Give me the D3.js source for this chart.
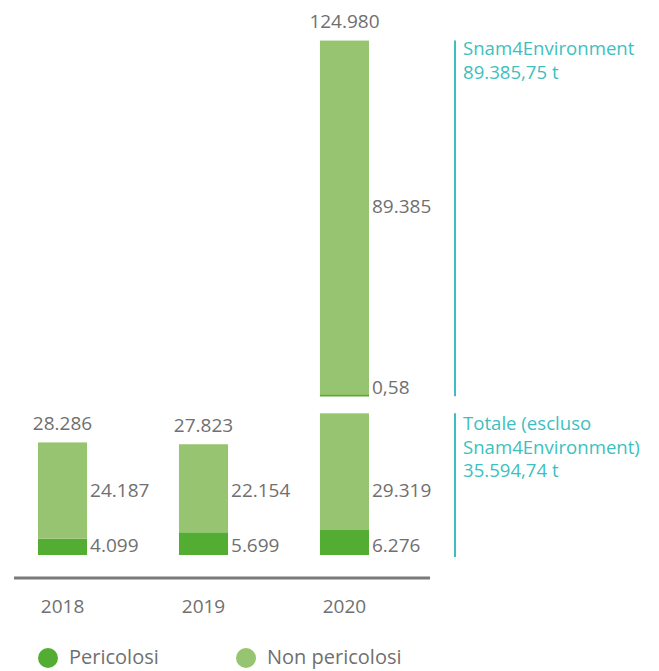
<!DOCTYPE html>
<html>
<head>
<meta charset="utf-8">
<script src="https://cdn.jsdelivr.net/npm/d3@7"></script>
<style>
    body { margin: 0; background: #fff; }
    svg text { font-family: "Open Sans", "Noto Sans", sans-serif; }
</style>
</head>
<body>
<svg id="chart"></svg>
<script>
// data (tonnellate)
const years = ["2018", "2019", "2020"];
const pericolosi = [4099, 5699, 6276];
const nonPericolosi = [24187, 22154, 29319];
// totals as published (2020 includes Snam4Environment)
const totali = [28286, 27823, 124980];
// Snam4Environment only in 2020, stacked above a break
const s4eYear = "2020";
const s4ePericolosi = 0.58;
const s4eNonPericolosi = 89385;
const noteS4E = ["Snam4Environment", "89.385,75 t"];
const noteTotale = ["Totale (escluso", "Snam4Environment)", "35.594,74 t"];
const legendLabels = ["Pericolosi", "Non pericolosi"];

class WasteChart {

    constructor(_config) {
        this.config = {
            parentElement: _config.parentElement,
            containerWidth: 659,
            containerHeight: 671,
            baseY: 555,
            breakGap: 17
        };
        this.colors = {dark: '#52ad32', light: '#97c470', text: '#707070', cyan: '#3dbfbf', axis: '#7a7a7a'};
        this.it = d3.formatLocale({decimal: ",", thousands: ".", grouping: [3], currency: ["", "€"]});
        this.initVis();
    }

    initVis() {
        let vis = this;

        vis.svg = d3.select(vis.config.parentElement)
            .attr('width', vis.config.containerWidth)
            .attr('height', vis.config.containerHeight);

        vis.xScale = d3.scaleBand()
            .domain(years)
            .range([38, 369])
            .paddingInner(0.652)
            .paddingOuter(0);

        vis.yScale = d3.scaleLinear()
            .domain([0, 125000])
            .range([vis.config.baseY, vis.config.baseY - 497.5]);

        vis.data = years.map((y, i) => ({
            year: y,
            per: pericolosi[i],
            non: nonPericolosi[i],
            tot: y === s4eYear ? pericolosi[i] + nonPericolosi[i] : totali[i],
            label: totali[i]
        }));

        vis.renderVis();
    }

    renderVis() {
        let vis = this;
        const c = vis.colors;
        const x = vis.xScale, y = vis.yScale;
        const bw = x.bandwidth();
        const fmt0 = vis.it.format(",.0f");
        const fmt2 = vis.it.format(",.2f");
        const gap = vis.config.breakGap;

        const bars = vis.svg.append('g');

        // lower stacks
        bars.selectAll('.bar-per')
            .data(vis.data)
            .join('rect')
            .attr('class', 'bar-per')
            .attr('x', d => x(d.year))
            .attr('width', bw)
            .attr('y', d => y(d.per))
            .attr('height', d => y(0) - y(d.per))
            .attr('fill', c.dark);

        bars.selectAll('.bar-non')
            .data(vis.data)
            .join('rect')
            .attr('class', 'bar-non')
            .attr('x', d => x(d.year))
            .attr('width', bw)
            .attr('y', d => y(d.tot))
            .attr('height', d => y(d.per) - y(d.tot))
            .attr('fill', c.light);

        // Snam4Environment block above the break
        const s4e = vis.data.find(d => d.year === s4eYear);
        const b0 = s4e.tot;
        const b1 = b0 + s4ePericolosi;
        const b2 = b1 + s4eNonPericolosi;
        bars.append('rect')
            .attr('x', x(s4eYear)).attr('width', bw)
            .attr('y', y(b2) - gap).attr('height', y(b1) - y(b2))
            .attr('fill', c.light);
        bars.append('rect')
            .attr('x', x(s4eYear)).attr('width', bw)
            .attr('y', y(b1) - gap - 1.5).attr('height', Math.max(1.5, y(b0) - y(b1)))
            .attr('fill', c.dark);

        const labels = vis.svg.append('g')
            .attr('fill', c.text)
            .attr('font-size', 19);

        // totals above bars
        labels.selectAll('.lbl-tot')
            .data(vis.data)
            .join('text')
            .attr('class', 'lbl-tot')
            .attr('text-anchor', 'middle')
            .attr('x', d => x(d.year) + bw / 2)
            .attr('y', d => d.year === s4eYear ? y(b2) - gap - 13 : y(d.tot) - 12)
            .text(d => fmt0(d.label));

        // segment values right of bars
        labels.selectAll('.lbl-per')
            .data(vis.data)
            .join('text')
            .attr('class', 'lbl-per')
            .attr('x', d => x(d.year) + bw + 3)
            .attr('y', y(0) - 3)
            .text(d => fmt0(d.per));

        labels.selectAll('.lbl-non')
            .data(vis.data)
            .join('text')
            .attr('class', 'lbl-non')
            .attr('x', d => x(d.year) + bw + 3)
            .attr('y', y(0) - 58)
            .text(d => fmt0(d.non));

        labels.append('text')
            .attr('x', x(s4eYear) + bw + 3)
            .attr('y', y(b0) - gap - 2)
            .text(fmt2(s4ePericolosi));

        labels.append('text')
            .attr('x', x(s4eYear) + bw + 3)
            .attr('y', (y(b1) + y(b2)) / 2 - gap - 5)
            .text(fmt0(s4eNonPericolosi));

        // x axis
        vis.svg.append('line')
            .attr('x1', 14).attr('x2', 430)
            .attr('y1', y(0) + 23).attr('y2', y(0) + 23)
            .attr('stroke', c.axis)
            .attr('stroke-width', 3);

        const xAxis = d3.axisBottom(x).tickSize(0).tickPadding(0);
        vis.svg.append('g')
            .attr('transform', `translate(0,${y(0) + 44})`)
            .call(xAxis)
            .call(g => g.select('.domain').remove())
            .call(g => g.selectAll('text')
                .attr('fill', c.text)
                .attr('font-size', 19)
                .attr('font-family', '"Open Sans", sans-serif'));

        // annotations for the two blocks
        const notes = vis.svg.append('g').attr('fill', c.cyan).attr('font-size', 18.6);
        const lineX = 455;

        notes.append('line')
            .attr('x1', lineX).attr('x2', lineX)
            .attr('y1', y(b2) - gap).attr('y2', y(b0) - gap)
            .attr('stroke', c.cyan).attr('stroke-width', 2);
        notes.selectAll('.n1')
            .data(noteS4E)
            .join('text')
            .attr('class', 'n1')
            .attr('x', lineX + 8)
            .attr('y', (d, i) => y(b2) - gap + 14 + i * 24)
            .text(d => d);

        notes.append('line')
            .attr('x1', lineX).attr('x2', lineX)
            .attr('y1', y(b0)).attr('y2', y(0) + 2)
            .attr('stroke', c.cyan).attr('stroke-width', 2);
        notes.selectAll('.n2')
            .data(noteTotale)
            .join('text')
            .attr('class', 'n2')
            .attr('x', lineX + 8)
            .attr('y', (d, i) => y(b0) + 17 + i * 23.5)
            .text(d => d);

        // legend
        const legend = vis.svg.append('g')
            .attr('transform', 'translate(48,658)');
        const items = legend.selectAll('.legend-item')
            .data(legendLabels)
            .join('g')
            .attr('class', 'legend-item')
            .attr('transform', (d, i) => `translate(${i * 198},0)`);
        items.append('circle')
            .attr('r', 10)
            .attr('fill', (d, i) => i === 0 ? c.dark : c.light);
        items.append('text')
            .attr('x', 21)
            .attr('y', 6)
            .attr('font-size', 20)
            .attr('fill', c.text)
            .text(d => d);
    }
}

new WasteChart({parentElement: '#chart'});
</script>
</body>
</html>
